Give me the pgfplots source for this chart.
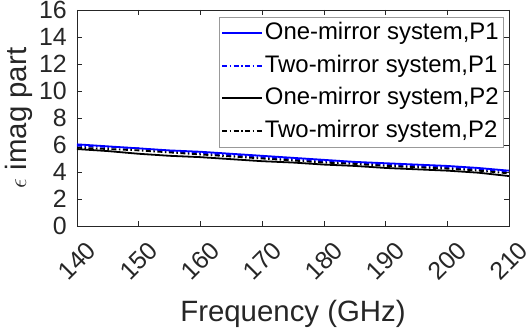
\documentclass[border=0pt]{standalone}
\usepackage{pgfplots}
\pgfplotsset{compat=1.18}
\usepackage{fontspec}
\setmainfont{Liberation Sans}

\definecolor{axgray}{gray}{0.15}

\begin{document}
\begin{tikzpicture}
\begin{axis}[
    scale only axis,
    width=432bp, height=216bp,
    at={(0,0)}, anchor=south west,
    xmin=140, xmax=210, ymin=0, ymax=16,
    xtick={140,150,...,210},
    ytick={0,2,...,16},
    /pgf/number format/assume math mode=true,
    tick label style={font=\fontsize{25}{28}\selectfont, text=axgray},
    xticklabel style={anchor=center, rotate=45, inner sep=0pt},
    xticklabel shift=35bp,
    yticklabel style={inner sep=0pt},
    yticklabel shift=10bp,
    xlabel={Frequency (GHz)},
    ylabel={$\epsilon$ imag part},
    label style={font=\fontsize{29.5}{32}\selectfont, text=axgray},
    xlabel style={at={(axis description cs:0.5,-0.44)}, anchor=base},
    ylabel style={at={(axis description cs:-0.118,0.5)}, anchor=base},
    axis line style={axgray, line width=0.6bp},
    tick style={axgray, line width=0.6bp},
    major tick length=5bp,
    tick align=inside,
    legend style={at={(0.986,0.968)}, anchor=north east,
        font=\fontsize{24}{29}\selectfont, draw=gray!80,
        inner xsep=2bp, inner ysep=3bp, row sep=6bp,
        nodes={inner xsep=2bp, inner ysep=2bp, text height=17.5bp, text depth=5bp}},
    legend cell align=left,
    legend image code/.code={
        \draw[mark repeat=2, mark phase=2, #1] plot coordinates {(0bp,0bp) (20bp,0bp) (40bp,0bp)};
    },
]
\addplot[blue, line width=1.8bp] coordinates {
(140,6.05) (145,5.9) (150,5.75) (155,5.6) (160,5.5) (165,5.35) (170,5.2) (175,5.05)
(180,4.9) (185,4.75) (190,4.65) (195,4.55) (200,4.45) (205,4.3) (210,4.1)};
\addlegendentry{One-mirror system,P1}
\addplot[blue, line width=1.8bp, dash pattern=on 5bp off 2.5bp on 1.5bp off 2.5bp] coordinates {
(140,5.95) (145,5.85) (150,5.75) (155,5.55) (160,5.4) (165,5.25) (170,5.1) (175,4.95)
(180,4.8) (185,4.7) (190,4.55) (195,4.45) (200,4.35) (205,4.2) (210,4.05)};
\addlegendentry{Two-mirror system,P1}
\addplot[black, line width=1.8bp] coordinates {
(140,5.7) (145,5.55) (150,5.35) (155,5.2) (160,5.1) (165,4.95) (170,4.8) (175,4.7)
(180,4.55) (185,4.45) (190,4.3) (195,4.2) (200,4.1) (205,3.95) (210,3.7)};
\addlegendentry{One-mirror system,P2}
\addplot[black, line width=1.8bp, dash pattern=on 5bp off 2.5bp on 1.5bp off 2.5bp] coordinates {
(140,5.8) (145,5.7) (150,5.6) (155,5.45) (160,5.3) (165,5.15) (170,5.0) (175,4.85)
(180,4.7) (185,4.6) (190,4.45) (195,4.35) (200,4.25) (205,4.1) (210,3.9)};
\addlegendentry{Two-mirror system,P2}
\end{axis}
\pgfresetboundingbox
\path[use as bounding box] (-77bp,-107bp) rectangle (455bp,226bp);
\end{tikzpicture}
\end{document}
